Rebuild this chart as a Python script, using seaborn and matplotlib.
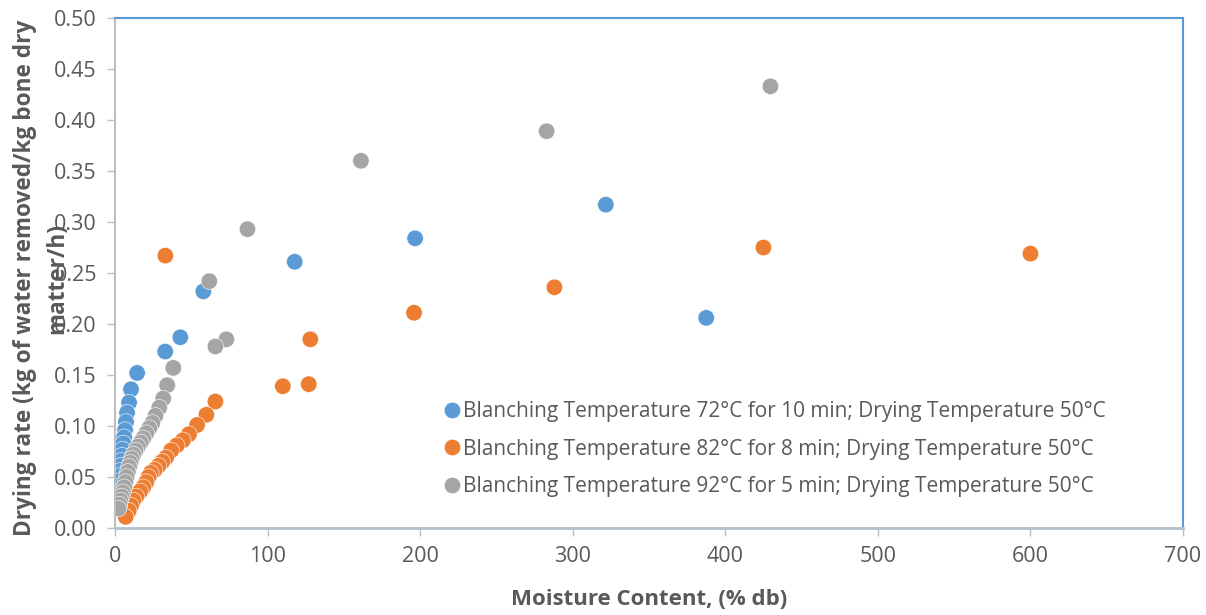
import matplotlib
matplotlib.use("Agg")
import matplotlib.pyplot as plt
import seaborn as sns
import pandas as pd

# Moisture content (% db) and drying rate (kg water removed / kg bone dry matter / h)
blue_label = "Blanching Temperature 72°C for 10 min; Drying Temperature 50°C"
orange_label = "Blanching Temperature 82°C for 8 min; Drying Temperature 50°C"
gray_label = "Blanching Temperature 92°C for 5 min; Drying Temperature 50°C"

mc_72 = [387.5, 321.7, 196.7, 117.8, 57.9, 42.8, 32.9, 14.5, 10.5, 9.2, 7.9, 7.2,
         6.6, 6.0, 5.5, 5.0, 4.6, 4.2, 3.8, 3.4, 3.0, 2.7, 2.4, 2.1, 1.8, 1.6, 1.4]
dr_72 = [0.206, 0.317, 0.284, 0.261, 0.232, 0.187, 0.173, 0.152, 0.136, 0.123, 0.113, 0.104,
         0.096, 0.089, 0.083, 0.077, 0.071, 0.066, 0.061, 0.056, 0.051, 0.046, 0.041, 0.036,
         0.031, 0.026, 0.021]

mc_82 = [600.0, 425.0, 288.0, 196.0, 128.0, 127.0, 110.0, 33.0,
         65.8, 59.9, 53.8, 48.5, 44.5, 40.5, 36.8, 33.5, 31.0, 28.5, 26.0, 23.5, 22.0,
         20.5, 18.5, 16.5, 14.0, 12.0, 10.5, 9.0, 7.0]
dr_82 = [0.269, 0.275, 0.236, 0.211, 0.185, 0.141, 0.139, 0.267,
         0.124, 0.111, 0.101, 0.092, 0.086, 0.081, 0.076, 0.069, 0.065, 0.061, 0.057, 0.054,
         0.050, 0.045, 0.040, 0.036, 0.031, 0.027, 0.022, 0.017, 0.011]

mc_92 = [429.6, 282.9, 161.2, 86.8, 61.8, 73.0, 65.8, 38.2, 34.2, 31.6,
         29.0, 26.5, 24.5, 22.5, 20.5, 18.5, 16.8, 15.0, 13.5, 12.0, 11.0, 10.0, 9.2, 8.4,
         7.6, 6.8, 6.0, 5.2, 4.4, 3.6, 2.9, 2.3]
dr_92 = [0.433, 0.389, 0.360, 0.293, 0.242, 0.185, 0.178, 0.157, 0.140, 0.127,
         0.118, 0.110, 0.103, 0.098, 0.093, 0.088, 0.084, 0.080, 0.076, 0.072, 0.068, 0.064,
         0.060, 0.055, 0.050, 0.045, 0.040, 0.035, 0.031, 0.027, 0.023, 0.019]

x_ticks = [0, 100, 200, 300, 400, 500, 600, 700]
y_ticks = [0.00, 0.05, 0.10, 0.15, 0.20, 0.25, 0.30, 0.35, 0.40, 0.45, 0.50]

df = pd.concat([
    pd.DataFrame({"mc": mc_72, "dr": dr_72, "series": blue_label}),
    pd.DataFrame({"mc": mc_82, "dr": dr_82, "series": orange_label}),
    pd.DataFrame({"mc": mc_92, "dr": dr_92, "series": gray_label}),
], ignore_index=True)

palette = {blue_label: "#5B9BD5", orange_label: "#ED7D31", gray_label: "#A5A5A5"}

sns.set_theme(style="white")
plt.rcParams["font.family"] = ["Open Sans", "DejaVu Sans"]
text_color = "#595959"

fig = plt.figure(figsize=(12.06, 6.15), dpi=100)
ax = fig.add_axes([115 / 1206, 1 - 528 / 615, (1183 - 115) / 1206, (528 - 18) / 615])

sns.scatterplot(data=df, x="mc", y="dr", hue="series", palette=palette,
                hue_order=[blue_label, orange_label, gray_label],
                s=140, edgecolor="white", linewidth=0.4, ax=ax, zorder=3)

ax.set_xlim(0, 700)
ax.set_ylim(0, 0.5)
ax.set_xticks(x_ticks)
ax.set_yticks(y_ticks)
ax.set_xticklabels([str(v) for v in x_ticks])
ax.set_yticklabels([f"{v:.2f}" for v in y_ticks])
ax.tick_params(axis="both", which="major", labelsize=15.5, colors="#BFBFBF",
               labelcolor=text_color, direction="out", length=6, width=1,
               bottom=True, left=True)
ax.tick_params(axis="x", pad=7)
ax.tick_params(axis="y", pad=7)

for side in ("top", "right"):
    ax.spines[side].set_color("#5B9BD5")
    ax.spines[side].set_linewidth(1.5)
ax.spines["left"].set_color("#BFBFBF")
ax.spines["left"].set_linewidth(1.5)
ax.spines["bottom"].set_color("#B4C0CC")
ax.spines["bottom"].set_linewidth(2)
for sp in ax.spines.values():
    sp.set_zorder(4)

ax.set_xlabel("Moisture Content, (% db)", fontsize=16, fontweight="bold",
              color=text_color, labelpad=16)
ax.set_ylabel("Drying rate (kg of water removed/kg bone dry\nmatter/h)", fontsize=16.3,
              fontweight="bold", color=text_color, linespacing=1.45)
ax.yaxis.set_label_coords(-0.043, 0.49)

handles, labels = ax.get_legend_handles_labels()
leg = ax.legend(handles, labels, loc="upper left", frameon=False, fontsize=15,
                handletextpad=0.05, handlelength=1.0, labelspacing=0.78,
                borderaxespad=0, markerscale=1.0)
leg.set_bbox_to_anchor((433 / 1206, 1 - 393 / 615), transform=fig.transFigure)
for t in leg.get_texts():
    t.set_color(text_color)

fig.savefig("out.png", dpi=100)
